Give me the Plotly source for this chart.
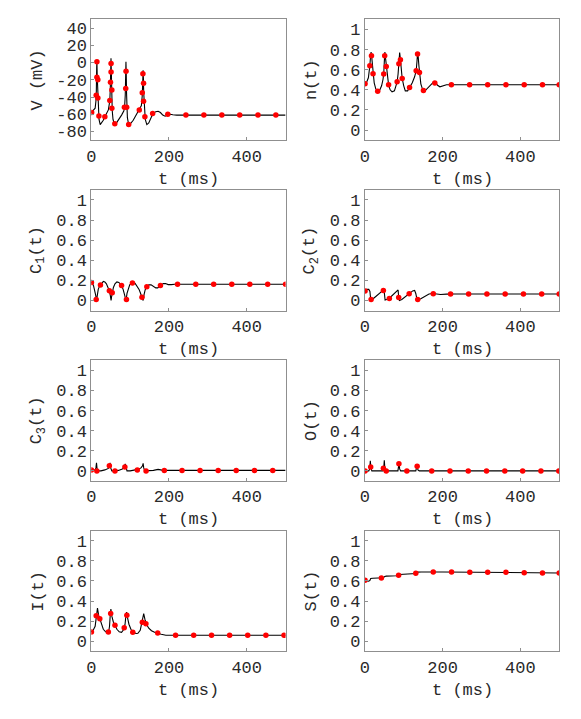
import plotly.graph_objects as go

# ---------------- data ----------------
# V(t)
t_V_line = [0, 5, 10, 12, 13, 14, 14.6, 15.3, 16.3, 17.3, 18.3, 20, 23, 27, 31, 35, 40, 44, 46.5, 47.8, 49, 50, 50.8, 51.6, 52.4, 53.2, 54, 56, 59, 62, 70, 78, 84, 86, 87.5, 88.5, 89.3, 90, 90.8, 91.5, 93, 96, 99, 108, 116, 123.6, 129, 131.3, 132.5, 133.4, 134.2, 135, 136, 137, 139, 143, 148, 155, 160, 166, 172, 178, 184, 190, 196, 203, 210, 220, 500]
V_line = [-58, -56, -53, -45, -35, -5, 1.5, -15, -30, -45, -58, -66, -72, -70, -67, -63, -59, -55, -48, -44, -30, -10, 5, -8, -25, -45, -56, -66, -71, -72, -67, -61, -56, -50, -38, -15, 1, -12, -35, -52, -64, -71.5, -72, -67, -61, -55.5, -50, -38, -20, -9, -18, -35, -48, -58, -66, -72, -70, -63, -59, -57, -56.5, -58, -61, -62.3, -61, -60, -60.5, -61, -61]
t_V_dots = [1, 12.8, 14.6, 14.6, 17, 17, 19.7, 35, 47.8, 49.5, 51, 51, 53, 53, 60.6, 85.3, 88.7, 89.5, 91.2, 96.3, 123.6, 131.3, 132.9, 134.6, 134.6, 138, 158, 197, 243.6, 289.8, 336, 382, 429, 475]
V_dots = [-58, -38, 1, -17, -20, -41, -62, -63, -44, -23, -1, -11, -32, -53, -71, -52, -30, -10, -52, -72, -55, -35, -13, -24, -45, -63, -59, -60, -61, -61, -61, -61, -61, -61]

# n(t)
t_n_line = [0, 5, 9, 11, 12.8, 14.5, 16, 17.5, 19, 21, 24, 28, 33, 38, 43, 46.5, 48.5, 50, 51.5, 53, 55, 58, 61, 65, 70, 76, 80, 83, 85.5, 87.5, 89.5, 91.5, 94, 96, 100, 104, 110, 115, 122, 128, 132, 134, 135.5, 137, 139, 140.5, 144, 148, 151, 156, 163, 170, 177, 182, 187, 193, 200, 210, 500]
n_line = [0.46, 0.48, 0.52, 0.57, 0.64, 0.73, 0.775, 0.73, 0.65, 0.56, 0.47, 0.41, 0.385, 0.395, 0.44, 0.50, 0.557, 0.68, 0.775, 0.72, 0.633, 0.52, 0.45, 0.40, 0.38, 0.39, 0.43, 0.48, 0.56, 0.66, 0.77, 0.70, 0.59, 0.513, 0.44, 0.39, 0.39, 0.423, 0.47, 0.53, 0.59, 0.68, 0.765, 0.74, 0.64, 0.573, 0.46, 0.41, 0.39, 0.395, 0.42, 0.455, 0.478, 0.47, 0.445, 0.43, 0.44, 0.45, 0.45]
t_n_dots = [0.5, 12.8, 17, 21, 33, 48.5, 51, 55, 61, 83, 87.5, 91.5, 96, 115, 132, 135.5, 140.5, 150.7, 180, 222.6, 269.5, 316, 363, 410, 457, 500]
n_dots = [0.46, 0.64, 0.74, 0.56, 0.385, 0.557, 0.74, 0.633, 0.45, 0.48, 0.66, 0.70, 0.513, 0.423, 0.59, 0.757, 0.573, 0.393, 0.467, 0.45, 0.45, 0.45, 0.45, 0.45, 0.45, 0.45]

# C1(t)
t_C1_line = [0, 3, 6, 9, 11.5, 13.5, 15.5, 18, 21, 23.7, 27, 31, 35, 39, 43, 46.6, 49, 51, 52.5, 54, 57, 61, 66, 71, 75, 78, 82, 86, 89.5, 92, 95, 99, 104, 108, 113, 118, 123, 127, 130.5, 133.5, 136, 139, 143, 148, 154, 160, 166, 171, 178, 185, 191, 198, 206, 215, 230, 500]
C1_line = [0.18, 0.17, 0.145, 0.10, 0.05, 0.0, 0.06, 0.11, 0.14, 0.155, 0.175, 0.19, 0.185, 0.165, 0.13, 0.096, 0.05, 0.0, 0.04, 0.076, 0.13, 0.165, 0.185, 0.18, 0.165, 0.149, 0.11, 0.06, 0.0, 0.07, 0.12, 0.155, 0.175, 0.18, 0.17, 0.145, 0.11, 0.07, 0.033, 0.0, 0.06, 0.11, 0.136, 0.155, 0.155, 0.14, 0.125, 0.125, 0.149, 0.168, 0.168, 0.158, 0.158, 0.162, 0.161, 0.161]
t_C1_dots = [0.5, 12.7, 23.7, 46.6, 54, 78, 90.6, 106, 130.5, 143, 178, 222, 269, 315, 361.6, 408, 454, 500]
C1_dots = [0.18, 0.01, 0.155, 0.096, 0.076, 0.149, 0.01, 0.175, 0.033, 0.136, 0.149, 0.161, 0.161, 0.161, 0.161, 0.161, 0.161, 0.161]

# C2(t)
t_C2_line = [0, 4, 10, 13, 15, 17, 25, 35, 45, 48, 50, 52, 56, 65, 75, 83, 85.5, 87, 89, 95, 105, 115, 123, 128, 131, 134, 137, 145, 155, 165, 175, 185, 195, 210, 230, 500]
C2_line = [0.10, 0.11, 0.11, 0.09, 0.01, 0.005, 0.03, 0.06, 0.095, 0.11, 0.08, 0.005, 0.01, 0.03, 0.065, 0.095, 0.105, 0.03, 0.0, 0.01, 0.04, 0.07, 0.095, 0.10, 0.07, 0.01, 0.005, 0.02, 0.045, 0.065, 0.07, 0.065, 0.06, 0.063, 0.065, 0.065]
t_C2_dots = [0.5, 16, 47.6, 63, 87, 114, 136, 176, 220.5, 267, 314, 361, 408, 455, 500]
C2_dots = [0.095, 0.01, 0.10, 0.02, 0.03, 0.067, 0.01, 0.067, 0.065, 0.065, 0.065, 0.065, 0.065, 0.065, 0.065]

# C3(t)
t_C3_line = [0, 5, 10, 12, 13.5, 15, 18, 25, 35, 44, 47, 48.5, 50, 53, 60, 70, 80, 85, 87.5, 89, 92, 100, 110, 120, 128, 132, 133.5, 135, 138, 145, 160, 172, 185, 200, 230, 500]
C3_line = [0.01, 0.005, 0.01, 0.03, 0.08, 0.02, 0.0, 0.0, 0.01, 0.025, 0.05, 0.08, 0.03, 0.0, 0.0, 0.005, 0.02, 0.035, 0.07, 0.03, 0.0, 0.0, 0.005, 0.015, 0.03, 0.05, 0.075, 0.03, 0.0, 0.0, 0.005, 0.015, 0.005, 0.006, 0.005, 0.005]
t_C3_dots = [0.5, 14.4, 46.6, 61, 86.5, 118.6, 141, 188, 233.6, 280, 326.6, 373, 420, 467]
C3_dots = [0.01, 0.0, 0.05, 0.0, 0.04, 0.01, 0.0, 0.003, 0.004, 0.004, 0.004, 0.004, 0.004, 0.004]

# O(t)
t_O_line = [0, 10, 12.5, 14, 15.5, 18, 47, 48.5, 50, 51.5, 54, 85, 86.5, 88, 89.5, 92, 131, 133, 134.5, 136.5, 140, 500]
O_line = [0.0, 0.0, 0.02, 0.1, 0.03, 0.0, 0.0, 0.03, 0.105, 0.02, 0.0, 0.0, 0.04, 0.08, 0.02, 0.0, 0.0, 0.03, 0.055, 0.01, 0.0, 0.0]
t_O_dots = [0.5, 15, 47.6, 55, 87.6, 108, 134.5, 172, 219, 266, 313, 360, 406, 453, 499]
O_dots = [0.0, 0.04, 0.027, 0.0, 0.07, 0.0, 0.045, 0.0, 0.0, 0.0, 0.0, 0.0, 0.0, 0.0, 0.0]

# I(t)
t_I_line = [0, 5, 10, 13, 16, 19, 22, 26, 31, 37, 42, 45, 47, 49, 50.5, 53, 57, 61, 66, 72, 78, 84, 87, 89.5, 91, 93, 97, 102, 108, 115, 120, 126, 130, 133, 135, 138, 142, 148, 155, 163, 171, 180, 192, 205, 220, 500]
I_line = [0.094, 0.11, 0.15, 0.25, 0.33, 0.26, 0.224, 0.16, 0.12, 0.095, 0.09, 0.10, 0.15, 0.27, 0.32, 0.25, 0.19, 0.16, 0.12, 0.095, 0.09, 0.12, 0.17, 0.27, 0.29, 0.24, 0.17, 0.12, 0.09, 0.078, 0.08, 0.11, 0.17, 0.24, 0.275, 0.22, 0.17, 0.13, 0.105, 0.09, 0.084, 0.07, 0.06, 0.058, 0.06, 0.06]
t_I_dots = [0.5, 12.7, 22, 44, 50, 61, 84.8, 91.6, 106.9, 131.5, 140.7, 171, 217, 263.6, 309.5, 356, 402.6, 449.4, 496]
I_dots = [0.094, 0.254, 0.224, 0.094, 0.277, 0.16, 0.134, 0.26, 0.09, 0.19, 0.174, 0.084, 0.06, 0.06, 0.06, 0.06, 0.06, 0.06, 0.06]

# S(t)
t_S_line = [0, 5, 10, 13, 15, 20, 40, 48, 51, 55, 80, 86, 89, 95, 125, 132, 135, 145, 200, 300, 400, 500]
S_line = [0.605, 0.60, 0.598, 0.605, 0.625, 0.627, 0.63, 0.632, 0.645, 0.648, 0.652, 0.655, 0.665, 0.667, 0.673, 0.675, 0.688, 0.69, 0.69, 0.687, 0.684, 0.68]
t_S_dots = [0.5, 42.5, 86.8, 131, 176, 223, 270, 316, 363, 410, 457, 500]
S_dots = [0.607, 0.63, 0.657, 0.677, 0.69, 0.69, 0.687, 0.687, 0.686, 0.683, 0.68, 0.68]

# axis titles and ticks
y_titles = ["V (mV)", "n(t)", "C<sub>1</sub>(t)", "C<sub>2</sub>(t)",
            "C<sub>3</sub>(t)", "O(t)", "I(t)", "S(t)"]
x_title = "t (ms)"
x_ticks = [0, 200, 400]
x_ticklabels = ["0", "200", "400"]
V_ticks = [-80, -60, -40, -20, 0, 20, 40]
V_ticklabels = ["-80", "-60", "-40", "-20", "0", "20", "40"]
p_ticks = [0, 0.2, 0.4, 0.6, 0.8, 1]
p_ticklabels = ["0", "0.2", "0.4", "0.6", "0.8", "1"]

# ---------------- figure ----------------
W, H = 581, 719
FONT = "Liberation Mono, Courier New, monospace"
FS = 17
FRAME = "#8f8f8f"
TXT = "#2a2a2a"

col_px = [(87, 283), (363, 559)]
row_px = [(19.5, 140.5), (190.4, 311.4), (361.3, 482.3), (532.2, 653.2)]

panels = [
    (t_V_line, V_line, t_V_dots, V_dots),
    (t_n_line, n_line, t_n_dots, n_dots),
    (t_C1_line, C1_line, t_C1_dots, C1_dots),
    (t_C2_line, C2_line, t_C2_dots, C2_dots),
    (t_C3_line, C3_line, t_C3_dots, C3_dots),
    (t_O_line, O_line, t_O_dots, O_dots),
    (t_I_line, I_line, t_I_dots, I_dots),
    (t_S_line, S_line, t_S_dots, S_dots),
]

fig = go.Figure()
layout = dict(width=W, height=H, margin=dict(l=0, r=0, t=0, b=0), autosize=False,
              paper_bgcolor="white", plot_bgcolor="white", showlegend=False,
              font=dict(family=FONT, size=FS, color=TXT))
annotations = []
for i, (tl, yl, td, yd) in enumerate(panels):
    r, c = divmod(i, 2)
    k = "" if i == 0 else str(i + 1)
    xa, ya = "x" + k, "y" + k
    fig.add_trace(go.Scatter(x=tl, y=yl, mode="lines", line=dict(color="black", width=1.1),
                             xaxis=xa, yaxis=ya, hoverinfo="skip"))
    fig.add_trace(go.Scatter(x=td, y=yd, mode="markers",
                             marker=dict(color="#ff0000", size=5.5, line=dict(width=0)),
                             xaxis=xa, yaxis=ya))
    x0, x1 = col_px[c]
    top, bot = row_px[r]
    common = dict(showline=True, mirror=True, linecolor=FRAME, linewidth=1,
                  ticks="inside", ticklen=3, tickcolor=FRAME, tickwidth=1,
                  showgrid=False, zeroline=False, fixedrange=True,
                  tickfont=dict(family=FONT, size=FS, color=TXT))
    layout["xaxis" + k] = dict(domain=[x0 / W, x1 / W], range=[0, 500], anchor=ya,
                               tickvals=x_ticks, ticktext=x_ticklabels, **common)
    if i == 0:
        yr, tv, tt = [-90, 50], V_ticks, V_ticklabels
    else:
        yr, tv, tt = [-0.1, 1.1], p_ticks, p_ticklabels
    layout["yaxis" + k] = dict(domain=[1 - bot / H, 1 - top / H], range=yr, anchor=xa,
                               tickvals=tv, ticktext=tt, **common)
    # y title
    annotations.append(dict(text=y_titles[i], xref="paper", yref="paper",
                            x=(x0 - 54) / W, y=1 - (top + bot) / 2 / H,
                            xanchor="center", yanchor="middle", textangle=-90,
                            showarrow=False, font=dict(family=FONT, size=FS, color=TXT)))
    # x title
    annotations.append(dict(text=x_title, xref="paper", yref="paper",
                            x=(x0 + x1) / 2 / W, y=1 - (bot + 39) / H,
                            xanchor="center", yanchor="middle",
                            showarrow=False, font=dict(family=FONT, size=FS, color=TXT)))
layout["annotations"] = annotations
fig.update_layout(**layout)

fig.write_html("out.html", config={"displayModeBar": False},
               post_script="document.body.style.margin='0';")
